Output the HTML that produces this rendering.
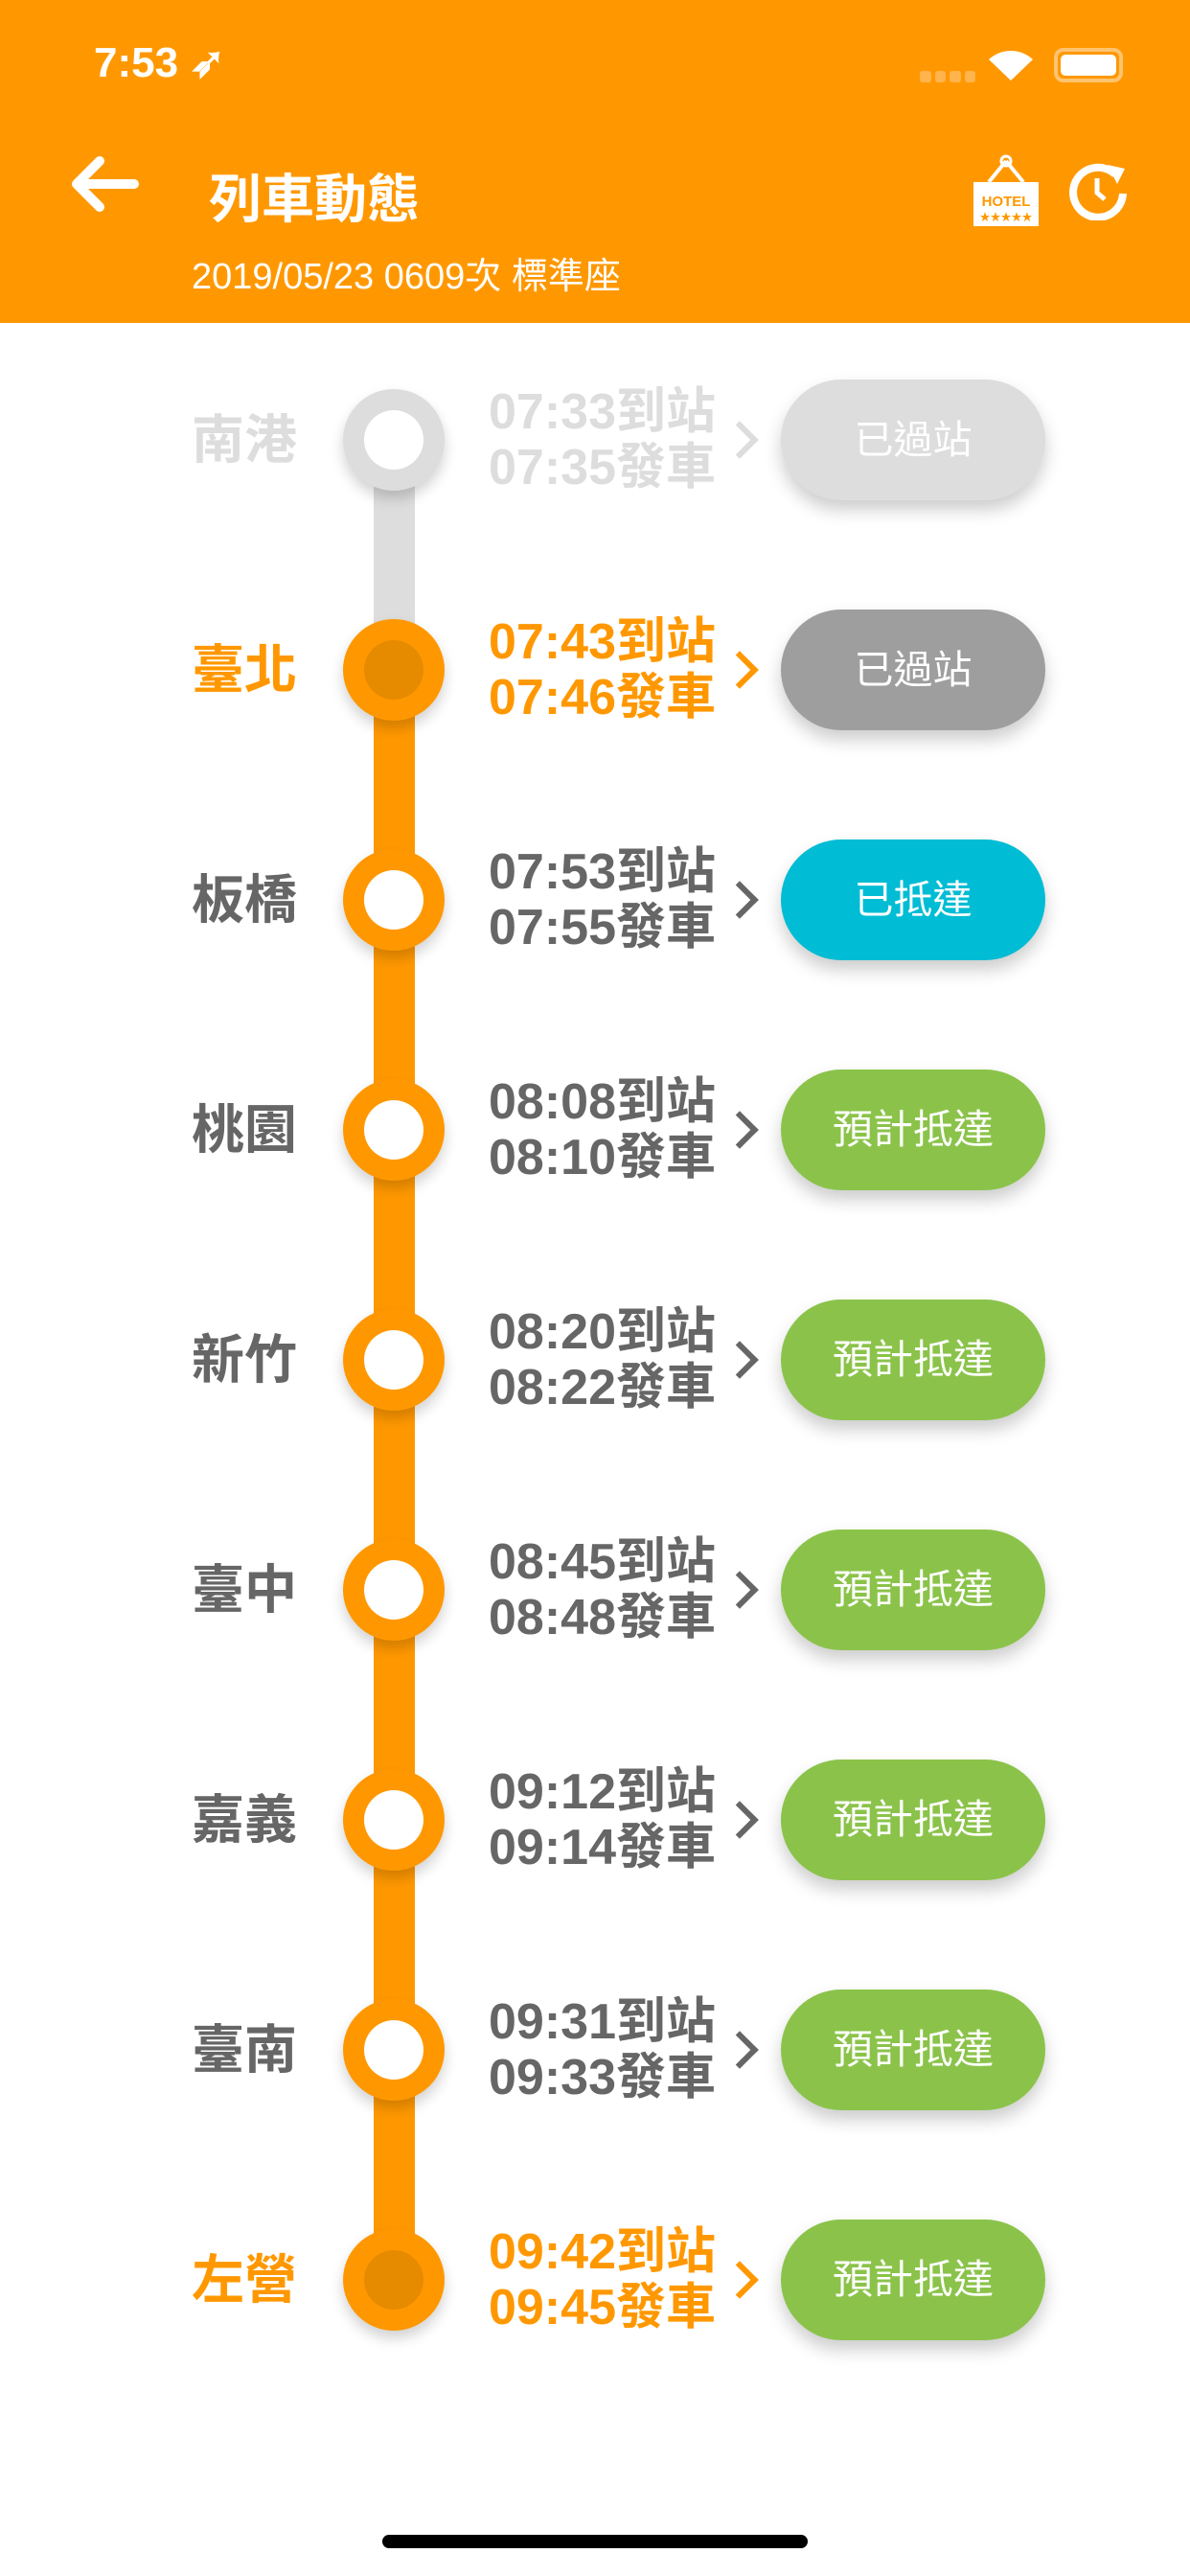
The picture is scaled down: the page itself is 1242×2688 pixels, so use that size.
<!DOCTYPE html>
<html><head><meta charset="utf-8"><style>
*{margin:0;padding:0;box-sizing:border-box}
body{width:1242px;height:2688px;background:#fff;position:relative;overflow:hidden;font-family:"Liberation Sans","Noto Sans CJK TC",sans-serif}
.hdr{position:absolute;left:0;top:0;width:1242px;height:337px;background:#FF9800;color:#fff}
.abs{position:absolute}
.name{position:absolute;left:200px;width:130px;font-size:55px;font-weight:bold;line-height:60px;white-space:nowrap}
.circ{position:absolute;left:358px;width:106px;height:106px;border-radius:50%;background:#FF9800;box-shadow:0 8px 14px rgba(0,0,0,.18)}
.circ i{position:absolute;left:22px;top:22px;width:62px;height:62px;border-radius:50%;background:#fff}
.t{position:absolute;left:510px;font-size:52px;font-weight:bold;line-height:58px;white-space:nowrap}
.chev{position:absolute;left:758px;width:28px;height:28px;border-right:6px solid;border-top:6px solid;transform:rotate(45deg)}
.btn{position:absolute;left:815px;width:276px;height:126px;border-radius:63px;color:#fff;font-size:41px;text-align:center;line-height:126px;box-shadow:0 10px 18px rgba(0,0,0,.2)}
.g{font-size:42px}
</style></head><body>
<div class="hdr">
<div class="abs" style="left:98px;top:40px;font-size:44px;font-weight:bold">7:53 ➶</div>
<div class="abs" style="left:960px;top:74px;width:58px;height:12px;display:flex;gap:4px"><span style="flex:1;background:#ffb44d;border-radius:3px"></span><span style="flex:1;background:#ffb44d;border-radius:3px"></span><span style="flex:1;background:#ffb44d;border-radius:3px"></span><span style="flex:1;background:#ffb44d;border-radius:3px"></span></div>
<svg class="abs" style="left:1030px;top:48px" width="50" height="40"><path d="M25 36 L2 14 A34 34 0 0 1 48 14Z" fill="#fff"/></svg>
<div class="abs" style="left:1100px;top:50px;width:72px;height:36px;border:4px solid #ffc470;border-radius:10px;padding:3px"><div style="background:#fff;height:100%;border-radius:5px"></div></div>
<svg class="abs" style="left:70px;top:162px" width="75" height="60"><path d="M70 30H12M34 6L10 30L34 54" stroke="#fff" stroke-width="10" fill="none" stroke-linecap="round" stroke-linejoin="round"/></svg>
<div class="abs" style="left:218px;top:163px;font-size:55px;font-weight:bold">列車動態</div>
<div class="abs" style="left:200px;top:257px;font-size:38px">2019/05/23 0609次 標準座</div>
<svg class="abs" style="left:1014px;top:160px" width="72" height="78"><path d="M36 8L18 30M36 8L54 30" stroke="#fff" stroke-width="4" fill="none"/><circle cx="36" cy="8" r="5" fill="none" stroke="#fff" stroke-width="3"/><rect x="2" y="30" width="68" height="46" fill="#fff"/><text x="36" y="55" font-size="15" font-weight="bold" fill="#FF9800" text-anchor="middle" font-family="Liberation Sans">HOTEL</text><text x="36" y="70" font-size="11" fill="#FF9800" text-anchor="middle">★★★★★</text></svg>
<svg class="abs" style="left:1116px;top:168px" width="62" height="62"><path d="M48 14A26 26 0 1 0 56 34" stroke="#fff" stroke-width="8" fill="none"/><path d="M40 4L58 8L50 24Z" fill="#fff"/><path d="M29 18V33L37 40" stroke="#fff" stroke-width="5" fill="none"/></svg>
</div>
<div class="abs" style="left:390px;top:459px;width:43px;height:240px;background:#ddd"></div>
<div class="abs" style="left:390px;top:699px;width:43px;height:1680px;background:#FF9800"></div>
<div class="circ" style="top:406px;background:#ddd"><i></i></div><div class="name" style="top:429px;color:#ddd">南港</div>
<div class="t" style="top:401px;color:#ddd">07:33到站<br>07:35發車</div><div class="chev" style="top:445px;color:#ddd"></div><div class="btn" style="top:396px;background:#ddd">已過站</div>

<div class="circ" style="top:646px"><i style="background:#E68A00"></i></div><div class="name" style="top:669px;color:#FF9800">臺北</div>
<div class="t" style="top:641px;color:#FF9800">07:43到站<br>07:46發車</div><div class="chev" style="top:685px;color:#FF9800"></div><div class="btn" style="top:636px;background:#9e9e9e">已過站</div>

<div class="circ" style="top:886px"><i></i></div><div class="name" style="top:909px;color:#666">板橋</div>
<div class="t" style="top:881px;color:#666">07:53到站<br>07:55發車</div><div class="chev" style="top:925px;color:#666"></div><div class="btn" style="top:876px;background:#00BCD4">已抵達</div>

<div class="circ" style="top:1126px"><i></i></div><div class="name" style="top:1149px;color:#666">桃園</div>
<div class="t" style="top:1121px;color:#666">08:08到站<br>08:10發車</div><div class="chev" style="top:1165px;color:#666"></div><div class="btn g" style="top:1116px;background:#8BC34A">預計抵達</div>

<div class="circ" style="top:1366px"><i></i></div><div class="name" style="top:1389px;color:#666">新竹</div>
<div class="t" style="top:1361px;color:#666">08:20到站<br>08:22發車</div><div class="chev" style="top:1405px;color:#666"></div><div class="btn g" style="top:1356px;background:#8BC34A">預計抵達</div>

<div class="circ" style="top:1606px"><i></i></div><div class="name" style="top:1629px;color:#666">臺中</div>
<div class="t" style="top:1601px;color:#666">08:45到站<br>08:48發車</div><div class="chev" style="top:1645px;color:#666"></div><div class="btn g" style="top:1596px;background:#8BC34A">預計抵達</div>

<div class="circ" style="top:1846px"><i></i></div><div class="name" style="top:1869px;color:#666">嘉義</div>
<div class="t" style="top:1841px;color:#666">09:12到站<br>09:14發車</div><div class="chev" style="top:1885px;color:#666"></div><div class="btn g" style="top:1836px;background:#8BC34A">預計抵達</div>

<div class="circ" style="top:2086px"><i></i></div><div class="name" style="top:2109px;color:#666">臺南</div>
<div class="t" style="top:2081px;color:#666">09:31到站<br>09:33發車</div><div class="chev" style="top:2125px;color:#666"></div><div class="btn g" style="top:2076px;background:#8BC34A">預計抵達</div>

<div class="circ" style="top:2326px"><i style="background:#E68A00"></i></div><div class="name" style="top:2349px;color:#FF9800">左營</div>
<div class="t" style="top:2321px;color:#FF9800">09:42到站<br>09:45發車</div><div class="chev" style="top:2365px;color:#FF9800"></div><div class="btn g" style="top:2316px;background:#8BC34A">預計抵達</div>

<div class="abs" style="left:399px;top:2645px;width:444px;height:14px;border-radius:7px;background:#000"></div>
</body></html>
